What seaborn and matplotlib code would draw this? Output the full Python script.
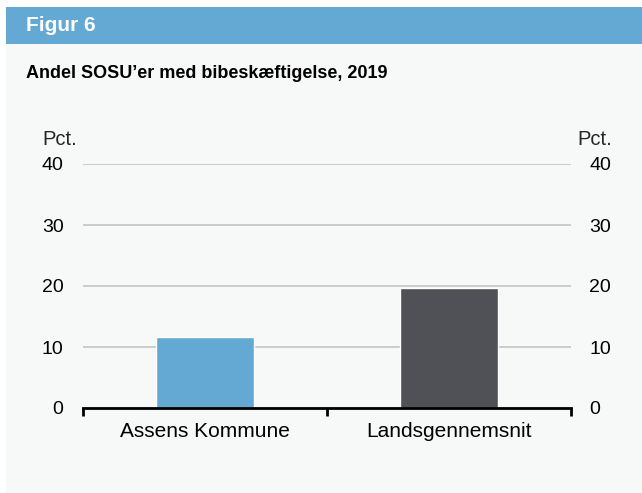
import matplotlib
matplotlib.use("Agg")
import matplotlib.pyplot as plt
import seaborn as sns
import pandas as pd
from matplotlib.patches import Rectangle

# data
categories = ["Assens Kommune", "Landsgennemsnit"]
values = [11.6, 19.6]
bar_colors = ["#63a9d4", "#505156"]
yticks = [0, 10, 20, 30, 40]

df = pd.DataFrame({"kategori": categories, "andel": values})

sns.set_style("white")
plt.rcParams["font.family"] = ["Liberation Sans", "DejaVu Sans"]

W, H = 642, 493
fig = plt.figure(figsize=(W / 100, H / 100), dpi=100)
fig.patch.set_facecolor("white")

# light panel and blue header band (behind the axes)
fig.patches.append(Rectangle((6 / W, 0), 1 - 6 / W, 1 - 44 / H, transform=fig.transFigure,
                             facecolor="#f7f8f8", edgecolor="none", zorder=-10))
fig.patches.append(Rectangle((6 / W, 1 - 44 / H), 1 - 6 / W, 37 / H, transform=fig.transFigure,
                             facecolor="#63a9d4", edgecolor="none", zorder=-10))
fig.text(26 / W, 1 - 25.5 / H, "Figur 6", color="white", fontsize=15, fontweight="bold", va="center")
fig.text(26 / W, 1 - 73 / H, "Andel SOSU\u2019er med bibeskæftigelse, 2019", color="black",
         fontsize=13, fontweight="bold", va="center")

left, right = 83 / W, 571 / W
bottom, top = (H - 408) / H, (H - 164) / H
ax = fig.add_axes([left, bottom, right - left, top - bottom])
ax.set_facecolor("none")

sns.barplot(data=df, x="kategori", y="andel", hue="kategori", palette=bar_colors,
            width=0.4, legend=False, saturation=1, ax=ax, zorder=3)

ax.set_ylim(0, 40)
ax.set_xlim(-0.5, 1.5)
ax.set_yticks(yticks)
ax.yaxis.grid(True, color="#c4c4c4", linewidth=1.2, zorder=0)
ax.set_axisbelow(True)
ax.set_xlabel("")
ax.set_ylabel("")
for s in ["left", "right", "top"]:
    ax.spines[s].set_visible(False)
ax.spines["bottom"].set_linewidth(2)
ax.spines["bottom"].set_color("black")
ax.spines["bottom"].set_zorder(5)

ax.tick_params(axis="y", length=0, labelsize=14, pad=14, colors="black")
ax.set_xticks([0, 1])
ax.set_xticklabels(categories, fontsize=15)
ax.tick_params(axis="x", which="major", length=0, pad=10, colors="black")
# category boundary ticks
ax.set_xticks([-0.5, 0.5, 1.5], minor=True)
ax.tick_params(axis="x", which="minor", bottom=True, length=6, width=2,
               direction="out", color="black")

ax2 = ax.twinx()
ax2.set_ylim(ax.get_ylim())
ax2.set_yticks(yticks)
for s in ax2.spines.values():
    s.set_visible(False)
ax2.tick_params(axis="y", length=0, labelsize=14, pad=13, colors="black")

fig.text(42 / W, 1 - 140 / H, "Pct.", fontsize=14.5, ha="left", va="center")
fig.text(612 / W, 1 - 140 / H, "Pct.", fontsize=14.5, ha="right", va="center")

fig.savefig("out.png", dpi=100)
